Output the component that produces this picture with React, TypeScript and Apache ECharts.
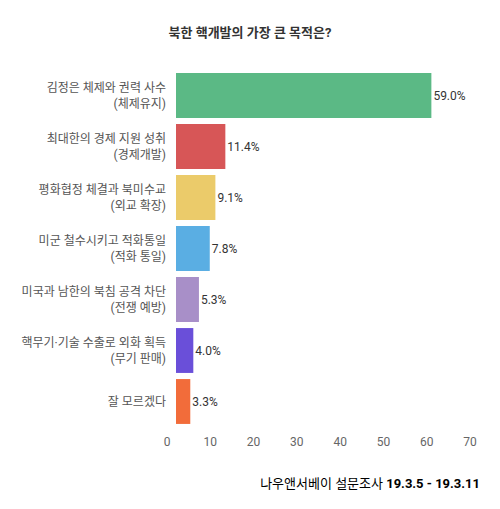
import React, { useEffect, useRef } from "react";
import * as echarts from "echarts";

const categories = [
  "김정은 체제와 권력 사수\n(체제유지)",
  "최대한의 경제 지원 성취\n(경제개발)",
  "평화협정 체결과 북미수교\n(외교 확장)",
  "미군 철수시키고 적화통일\n(적화 통일)",
  "미국과 남한의 북침 공격 차단\n(전쟁 예방)",
  "핵무기·기술 수출로 외화 획득\n(무기 판매)",
  "잘 모르겠다",
];
const values = [59.0, 11.4, 9.1, 7.8, 5.3, 4.0, 3.3];
const colors = ["#5bb985", "#d75657", "#ebcb6a", "#5aaee3", "#a88fc8", "#6a4fd9", "#f26c3a"];
const titleText = "북한 핵개발의 가장 큰 목적은?";
const sourceName = "나우앤서베이 설문조사 ";
const sourceDate = "19.3.5 - 19.3.11";

const FONT = "Roboto, 'Noto Sans CJK KR', sans-serif";

export default function App() {
  const ref = useRef<HTMLDivElement>(null);
  useEffect(() => {
    if (!ref.current) return;
    const chart = echarts.init(ref.current, null, { renderer: "svg" });
    chart.setOption({
      animation: false,
      backgroundColor: "#ffffff",
      textStyle: { fontFamily: FONT },
      title: {
        text: titleText,
        left: "center",
        top: 21,
        textStyle: { fontSize: 13, fontWeight: "bold", color: "#333", fontFamily: FONT },
      },
      grid: { left: 176, right: 21, top: 70, bottom: 82, containLabel: false },
      xAxis: {
        type: "value",
        min: 0,
        max: 70,
        interval: 10,
        axisLine: { show: false },
        axisTick: { show: false },
        splitLine: { show: false },
        axisLabel: {
          margin: 9,
          color: "#666",
          fontSize: 12,
          fontFamily: FONT,
          padding: [0, 18, 0, 0],
        },
      },
      yAxis: {
        type: "category",
        inverse: true,
        data: categories,
        axisLine: { show: false },
        axisTick: { show: false },
        axisLabel: {
          margin: 10,
          color: "#555",
          fontSize: 12,
          lineHeight: 16,
          align: "right",
          fontFamily: FONT,
        },
      },
      series: [
        {
          type: "bar",
          barCategoryGap: "12%",
          data: values.map((v, i) => ({ value: v, itemStyle: { color: colors[i] } })),
          label: {
            show: true,
            position: "right",
            distance: 2,
            color: "#333",
            fontSize: 12,
            fontWeight: "normal",
            fontFamily: FONT,
            formatter: (p: any) => p.value.toFixed(1) + "%",
          },
        },
      ],
      graphic: [
        {
          type: "text",
          right: 20,
          top: 477,
          style: {
            text: "{a|" + sourceName + "}{b|" + sourceDate + "}",
            rich: {
              a: { fontSize: 13, color: "#444", fontFamily: FONT },
              b: { fontSize: 13, color: "#444", fontWeight: "bold", fontFamily: FONT },
            },
          },
        },
      ],
    });
    return () => chart.dispose();
  }, []);
  return (
    <div
      ref={ref}
      style={{ position: "absolute", left: 0, top: 0, width: 500, height: 509 }}
    />
  );
}
